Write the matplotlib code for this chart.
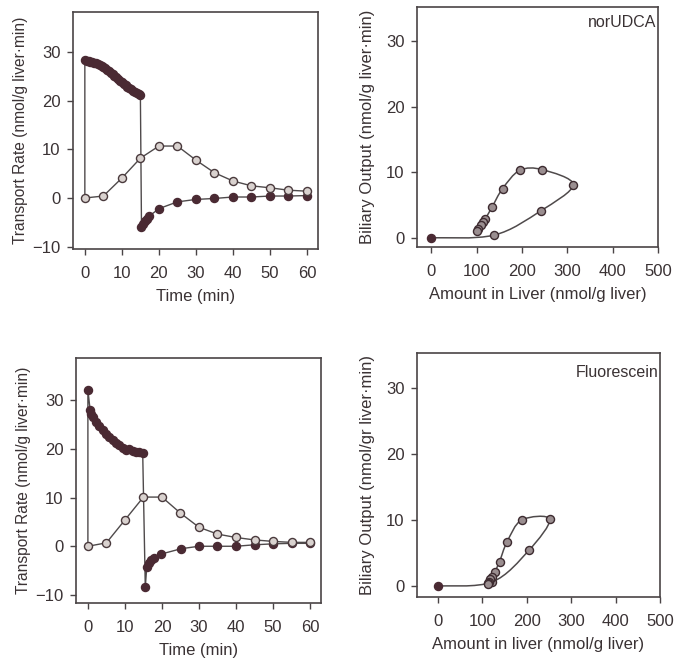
import numpy as np
import matplotlib
matplotlib.use("Agg")
import matplotlib.pyplot as plt
from matplotlib.path import Path
from matplotlib.patches import PathPatch

plt.rcParams['font.family'] = ['Liberation Sans', 'DejaVu Sans']

# ---------------- data ----------------
# norUDCA, transport rate vs time
nor_time_open = [0, 5, 10, 15, 20, 25, 30, 35, 40, 45, 50, 55, 60]
nor_biliary = [0, 0.4, 4.1, 8.2, 10.7, 10.7, 7.8, 5.2, 3.5, 2.5, 2.1, 1.6, 1.4]
nor_time_fill = [0, 0.5, 1, 1.5, 2, 2.5, 3, 3.5, 4, 4.5, 5, 5.5, 6, 6.5, 7, 7.5,
                 8, 8.5, 9, 9.5, 10, 10.5, 11, 11.5, 12, 12.5, 13, 13.5, 14, 14.5, 15,
                 15.3, 15.8, 16.3, 16.8, 17.3, 20, 25, 30, 35, 40, 45, 50, 55, 60]
nor_net = [28.4, 28.3, 28.2, 28.1, 28.0, 27.9, 27.8, 27.6, 27.4, 27.2, 27.0, 26.7,
           26.4, 26.1, 25.8, 25.5, 25.2, 24.9, 24.5, 24.2, 23.9, 23.5, 23.2, 22.9,
           22.6, 22.4, 22.1, 21.9, 21.7, 21.5, 21.3,
           -6.0, -5.3, -4.7, -4.3, -3.8, -2.2, -0.8, -0.3, -0.1, 0.2, 0.2, 0.4, 0.4, 0.5]

# norUDCA, biliary output vs amount in liver
nor_liver_amount = [0, 138, 241, 313, 245, 195, 157, 134, 119, 114, 109, 103, 100]
nor_output = [0, 0.4, 4.1, 8.1, 10.4, 10.3, 7.5, 4.7, 2.9, 2.4, 1.9, 1.4, 1.0]

# Fluorescein, transport rate vs time
flu_time_open = [0, 5, 10, 15, 20, 25, 30, 35, 40, 45, 50, 55, 60]
flu_biliary = [0, 0.7, 5.4, 10.1, 10.1, 6.8, 3.9, 2.5, 1.8, 1.3, 1.0, 0.8, 0.8]
flu_time_fill = [0, 0.6, 0.9, 1.4, 2.2, 3.1, 4.0, 4.9, 5.8, 6.7, 7.6, 8.5, 9.4,
                 10.3, 11.2, 12.1, 13.0, 13.9, 14.8,
                 15.5, 15.9, 16.4, 17.0, 17.9, 19.8, 25.2, 30, 35, 40, 45, 50, 55, 60]
flu_net = [32.1, 28.0, 27.2, 26.5, 25.5, 24.6, 23.8, 23.1, 22.4, 21.8, 21.2, 20.7,
           20.1, 19.7, 19.9, 19.5, 19.3, 19.3, 19.2,
           -8.4, -4.2, -3.5, -2.9, -2.4, -1.6, -0.5, 0, 0, 0, 0.3, 0.5, 0.6, 0.6]

# Fluorescein, biliary output vs amount in liver
flu_liver_amount = [0, 122, 205, 252, 189, 156, 139, 128, 122, 118, 116, 114, 113]
flu_output = [0, 0.6, 5.4, 10.1, 10.0, 6.7, 3.7, 2.1, 1.4, 1.0, 0.6, 0.5, 0.35]

time_ticks = [0, 10, 20, 30, 40, 50, 60]
rate_ticks = [-10, 0, 10, 20, 30]
amount_ticks = [0, 100, 200, 300, 400, 500]
output_ticks = [0, 10, 20, 30]

# ---------------- style ----------------
TXT = '#3a3234'
FRAME = '#4a4446'
LINE = '#4f4a4b'
FILL = '#4a2a33'
OPEN_FACE = '#d9d2cf'
GRAY_FACE = '#9a8e90'
MS = 5.8
FS_TICK = 12
FS_XLAB = 12

fig = plt.figure(figsize=(6.79, 6.71), dpi=100)


def style(ax):
    for s in ax.spines.values():
        s.set_color(FRAME)
        s.set_linewidth(1.2)
    ax.tick_params(direction='out', length=4, width=1, color=FRAME,
                   labelcolor=TXT, labelsize=FS_TICK)
    ax.tick_params(axis='x', pad=8)
    ax.tick_params(axis='y', pad=5)


def smooth(ax, x, y):
    P = np.column_stack([x, y]).astype(float)
    n = len(P)
    verts = [P[0]]
    codes = [Path.MOVETO]
    for i in range(n - 1):
        pprev = P[i - 1] if i > 0 else P[i]
        pnext = P[i + 2] if i + 2 < n else P[i + 1]
        c1 = P[i] + (P[i + 1] - pprev) / 6.0
        c2 = P[i + 1] - (pnext - P[i]) / 6.0
        verts += [c1, c2, P[i + 1]]
        codes += [Path.CURVE4] * 3
    ax.add_patch(PathPatch(Path(verts, codes), fill=False, edgecolor=LINE,
                           linewidth=1.1, zorder=2))


def time_panel(rect, t_open, v_open, t_fill, v_fill, ylim):
    ax = fig.add_axes(rect)
    ax.plot(np.r_[t_open[0], t_fill], np.r_[v_open[0], v_fill], '-',
            color=LINE, lw=1.0, zorder=2)
    ax.plot(t_fill, v_fill, 'o', ms=MS, mfc=FILL, mec=FILL, zorder=3)
    ax.plot(t_open, v_open, '-o', color=LINE, lw=1.0, ms=MS, mfc=OPEN_FACE,
            mec='#4a3a3d', mew=1.0, zorder=4)
    ax.set_xlim(-3.2, 63)
    ax.set_ylim(*ylim)
    ax.set_xticks(time_ticks)
    ax.set_yticks(rate_ticks)
    ax.set_xlabel('Time (min)', fontsize=FS_XLAB, color=TXT, labelpad=6)
    ax.set_ylabel('Transport Rate (nmol/g liver\u00b7min)', fontsize=11.2,
                  color=TXT, labelpad=3)
    style(ax)
    return ax


def amount_panel(rect, amt, out, xlim, ylim, xlabel, ylabel, name, ny):
    ax = fig.add_axes(rect)
    smooth(ax, amt, out)
    ax.plot(amt[1:], out[1:], 'o', ms=MS, mfc=GRAY_FACE, mec='#3d2b30',
            mew=1.0, zorder=3)
    ax.plot(amt[:1], out[:1], 'o', ms=MS, mfc=FILL, mec=FILL, zorder=3)
    ax.set_xlim(*xlim)
    ax.set_ylim(*ylim)
    ax.set_xticks(amount_ticks)
    ax.set_yticks(output_ticks)
    ax.set_xlabel(xlabel, fontsize=FS_XLAB, color=TXT, labelpad=6)
    ax.set_ylabel(ylabel, fontsize=12, color=TXT, labelpad=8)
    ax.text(0.995, ny, name, transform=ax.transAxes, ha='right', va='center',
            fontsize=11.5, color=TXT)
    style(ax)
    return ax


time_panel([0.1075, 0.629, 0.361, 0.353], nor_time_open, nor_biliary,
           nor_time_fill, nor_net, (-10.5, 38.3))
time_panel([0.112, 0.101, 0.361, 0.365], flu_time_open, flu_biliary,
           flu_time_fill, flu_net, (-11.7, 38.6))
amount_panel([0.614, 0.632, 0.355, 0.358], nor_liver_amount, nor_output,
             (-32, 487), (-1.4, 35.3), 'Amount in Liver (nmol/g liver)',
             'Biliary Output (nmol/g liver\u00b7min)', 'norUDCA', 0.933)
amount_panel([0.614, 0.110, 0.358, 0.364], flu_liver_amount, flu_output,
             (-47, 493), (-1.7, 35.3), 'Amount in liver (nmol/g liver)',
             'Biliary Output (nmol/gr liver\u00b7min)', 'Fluorescein', 0.918)

fig.savefig('out.png', dpi=100)
